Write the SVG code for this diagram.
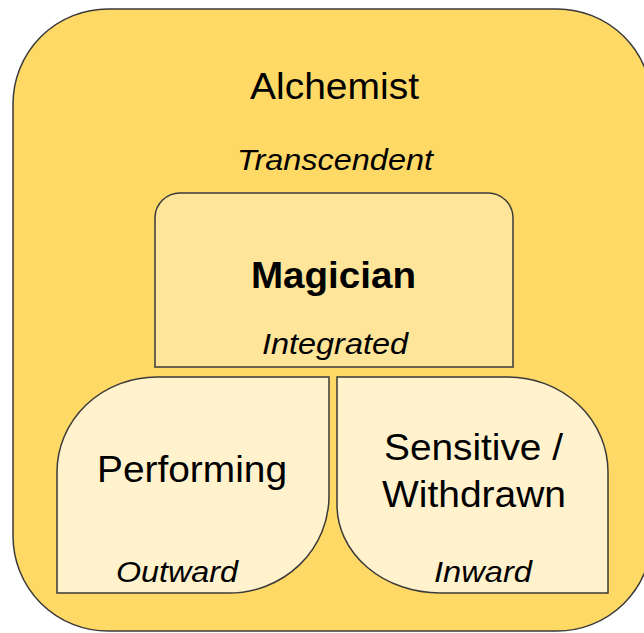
<svg xmlns="http://www.w3.org/2000/svg" width="644" height="633" viewBox="0 0 644 633">
<style>
.shape{stroke:#3a3a3a;stroke-width:1.5}
.t{font-family:"Liberation Sans",Arial,sans-serif;fill:#000;text-anchor:middle}
.big{font-size:36px}
.sm{font-size:30px;font-style:italic}
.b{font-weight:bold}
</style>
<rect width="644" height="633" fill="#ffffff"/>
<g id="alchemist">
<rect class="shape" x="13" y="9" width="639" height="622" rx="95" ry="95" fill="#ffd966"/>
<text class="t big" x="334.5" y="99" textLength="169" lengthAdjust="spacingAndGlyphs">Alchemist</text>
<text class="t sm" x="335" y="170" textLength="196" lengthAdjust="spacingAndGlyphs">Transcendent</text>
</g>
<g id="magician">
<path class="shape" d="M155,367 V218 A25,25 0 0 1 180,193 H488 A25,25 0 0 1 513,218 V367 Z" fill="#ffe599"/>
<text class="t big b" x="333.5" y="288" textLength="165" lengthAdjust="spacingAndGlyphs">Magician</text>
<text class="t sm" x="335" y="354" textLength="146" lengthAdjust="spacingAndGlyphs">Integrated</text>
</g>
<g id="performing">
<path class="shape" d="M57,593 V472 A100,95 0 0 1 157,377 H329 V496 A100,97 0 0 1 229,593 Z" fill="#fff2cc"/>
<text class="t big" x="192" y="482" textLength="190" lengthAdjust="spacingAndGlyphs">Performing</text>
<text class="t sm" x="177" y="582" textLength="122" lengthAdjust="spacingAndGlyphs">Outward</text>
</g>
<g id="sensitive">
<path class="shape" d="M337,377 H508 A100,95 0 0 1 608,472 V593 H440 A103,88 0 0 1 337,505 Z" fill="#fff2cc"/>
<text class="t big" x="473.5" y="460" textLength="179" lengthAdjust="spacingAndGlyphs">Sensitive /</text>
<text class="t big" x="474" y="507" textLength="184" lengthAdjust="spacingAndGlyphs">Withdrawn</text>
<text class="t sm" x="483" y="582" textLength="98" lengthAdjust="spacingAndGlyphs">Inward</text>
</g>
<g id="connectors"></g>
</svg>
